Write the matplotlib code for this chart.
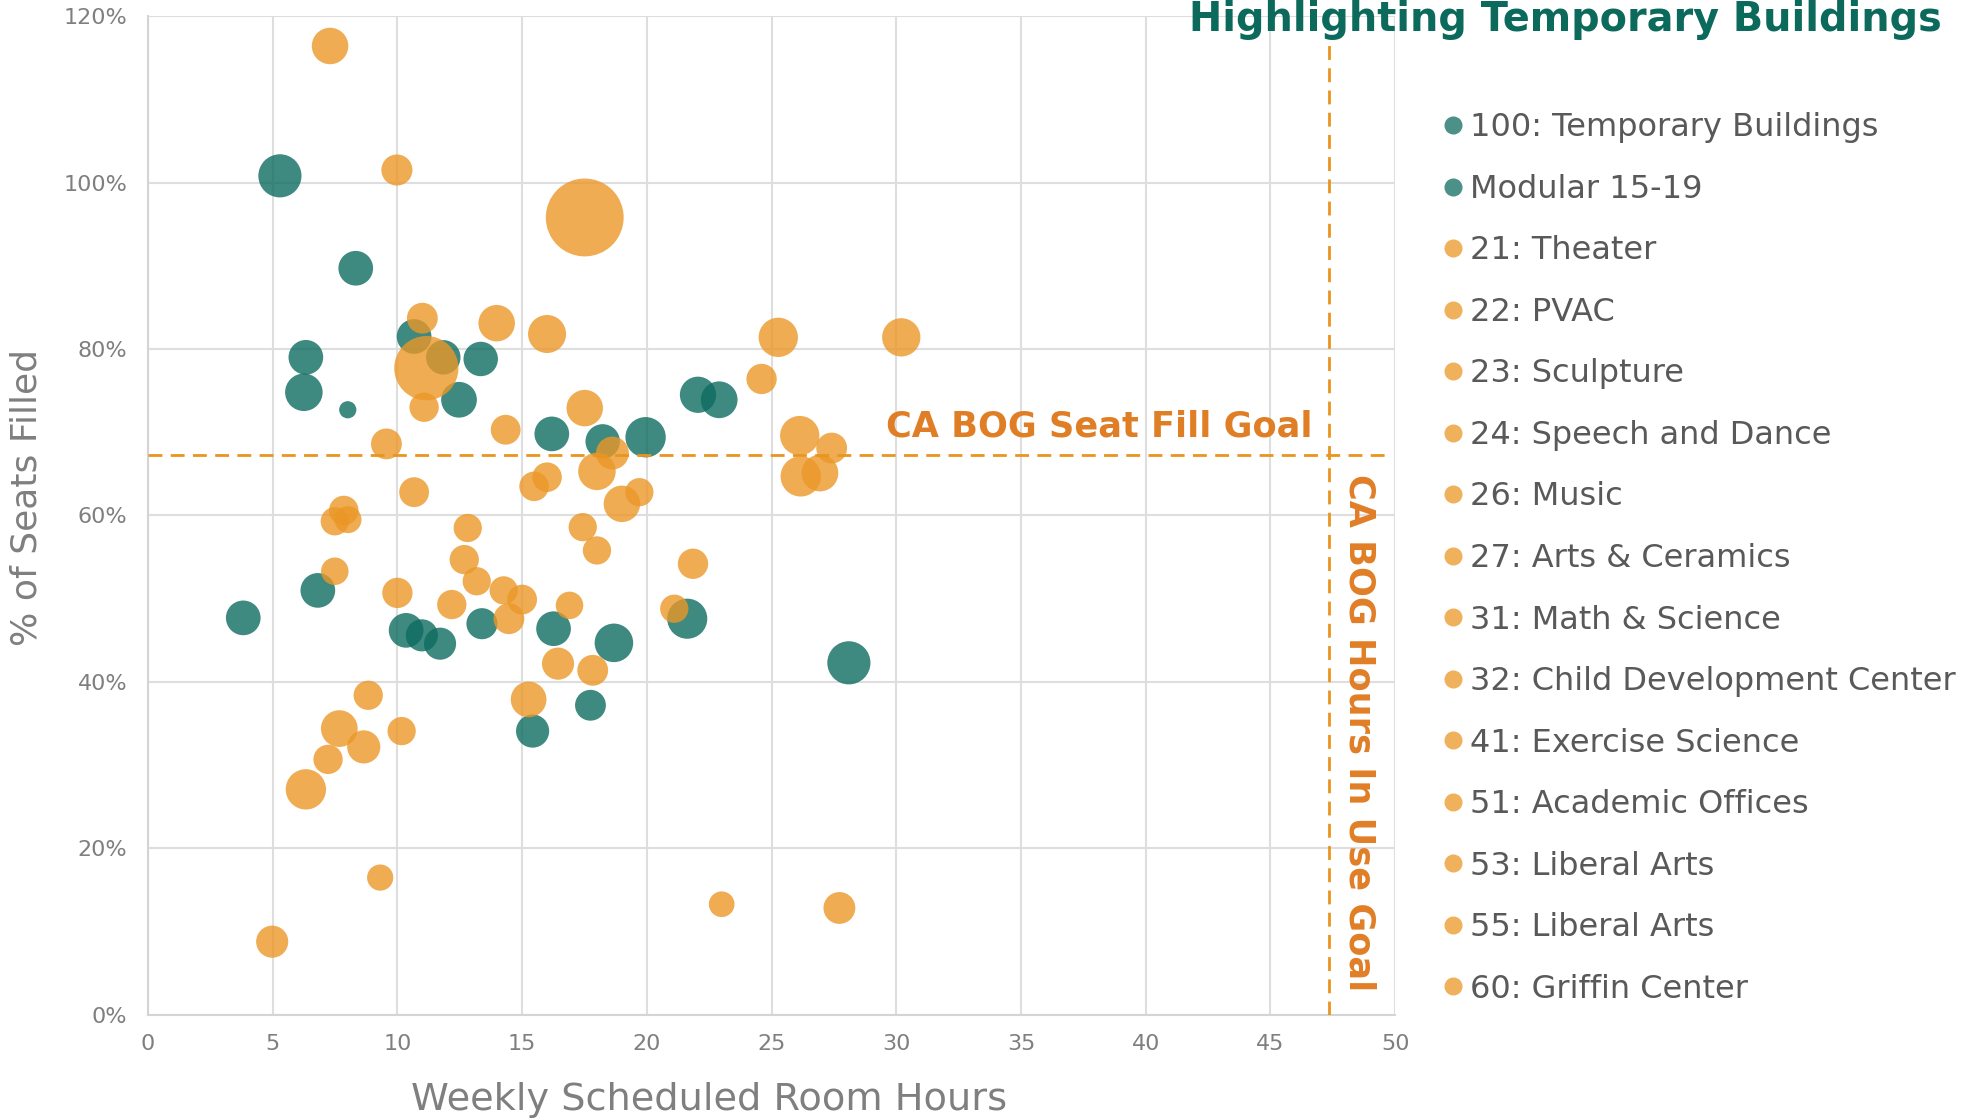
import matplotlib
matplotlib.use("Agg")
import matplotlib.pyplot as plt
from matplotlib.lines import Line2D
from matplotlib.ticker import FuncFormatter

# temporary / modular buildings (teal)
temp_hours = [5.29, 8.33, 6.33, 6.25, 8.01, 10.67, 11.84, 13.34, 12.47, 16.19,
              18.23, 19.95, 22.05, 22.9, 3.82, 6.81, 10.35, 10.98, 11.71, 13.39,
              16.26, 18.68, 21.62, 17.74, 15.42, 28.1]
temp_fill = [100.8, 89.7, 79.0, 74.8, 72.7, 81.5, 79.0, 78.8, 73.9, 69.8,
             68.9, 69.4, 74.5, 73.9, 47.7, 51.0, 46.2, 45.6, 44.6, 47.0,
             46.4, 44.7, 47.6, 37.2, 34.1, 42.3]
temp_size = [16.8, 13.5, 13.5, 14.6, 6.7, 13.5, 13.4, 13.4, 13.9, 13.5,
             13.4, 15.7, 14.1, 14.3, 13.5, 13.5, 13.5, 12.5, 12.5, 12.1,
             13.5, 15.0, 15.6, 12.0, 12.9, 16.8]

# permanent buildings (orange)
perm_hours = [7.30, 9.98, 17.51, 11.0, 11.16, 13.98, 16.0, 11.07, 17.51, 14.34,
              9.56, 25.27, 30.2, 24.6, 26.13, 27.41, 26.17, 26.94, 18.62, 18.0,
              16.0, 15.48, 19.7, 19.0, 10.67, 7.85, 7.49, 8.02, 12.82, 17.43,
              18.0, 12.68, 7.49, 13.18, 10.0, 14.26, 15.0, 12.18, 16.9, 14.47,
              21.85, 21.1, 16.44, 17.83, 15.26, 8.83, 7.67, 10.17, 8.65, 7.22,
              6.33, 9.31, 4.98, 23.0, 27.72]
perm_fill = [116.4, 101.5, 95.8, 83.7, 77.7, 83.1, 81.8, 73.0, 72.9, 70.3,
             68.6, 81.4, 81.4, 76.4, 69.6, 68.1, 64.7, 65.1, 67.5, 65.3,
             64.6, 63.5, 62.8, 61.4, 62.8, 60.6, 59.3, 59.5, 58.5, 58.6,
             55.8, 54.7, 53.3, 52.1, 50.7, 51.0, 49.9, 49.3, 49.2, 47.6,
             54.2, 48.8, 42.2, 41.4, 37.9, 38.4, 34.4, 34.1, 32.2, 30.7,
             27.1, 16.5, 8.8, 13.3, 12.85]
perm_size = [14.2, 12.1, 30.3, 12.0, 25.0, 14.2, 14.8, 11.4, 14.2, 11.6,
             12.0, 15.3, 14.9, 11.8, 15.3, 12.0, 15.7, 14.3, 12.8, 14.6,
             11.5, 11.5, 11.0, 14.2, 11.6, 11.5, 11.0, 10.5, 11.0, 11.0,
             11.0, 11.4, 10.7, 11.0, 11.8, 11.0, 11.6, 11.4, 10.7, 12.0,
             11.8, 11.0, 12.5, 12.0, 13.9, 11.4, 14.3, 11.0, 12.9, 11.4,
             15.7, 10.2, 12.5, 10.0, 12.4]

legend_names = ["100: Temporary Buildings", "Modular 15-19", "21: Theater", "22: PVAC",
                "23: Sculpture", "24: Speech and Dance", "26: Music",
                "27: Arts & Ceramics", "31: Math & Science",
                "32: Child Development Center", "41: Exercise Science",
                "51: Academic Offices", "53: Liberal Arts", "55: Liberal Arts",
                "60: Griffin Center"]
legend_is_temp = [True, True] + [False] * 13

seat_goal = 67.3
hours_goal = 47.33

TEAL = "#0e6c60"
ORANGE = "#eb9727"
GOAL = "#e9951f"
GOAL_TXT = "#e07e26"
TITLE = "#0b6a5b"
GRAY = "#7f7f7f"

fig = plt.figure(figsize=(19.65, 11.2), dpi=100)
ax = fig.add_axes([0.0753, 0.0938, 0.6347, 0.8919])

ax.scatter(temp_hours, temp_fill, s=[(1.85 * v) ** 2 for v in temp_size],
           color=TEAL, alpha=0.8, linewidths=0, zorder=3)
ax.scatter(perm_hours, perm_fill, s=[(1.85 * v) ** 2 for v in perm_size],
           color=ORANGE, alpha=0.8, linewidths=0, zorder=3)

ax.plot([0, 49.76], [seat_goal, seat_goal], color=GOAL, lw=2,
        ls=(0, (5, 3)), zorder=4, clip_on=False)
ax.plot([hours_goal, hours_goal], [0, 117.6], color=GOAL, lw=2,
        ls=(0, (5, 3)), zorder=4)

ax.text(46.7, 69.5, "CA BOG Seat Fill Goal", color=GOAL_TXT, fontsize=25.3,
        fontweight="bold", ha="right", va="baseline", zorder=5)
ax.text(48.58, 65.0, "CA BOG Hours In Use Goal", color=GOAL_TXT, fontsize=25.3,
        fontweight="bold", rotation=-90, ha="center", va="top", zorder=5)

ax.set_xlim(0, 50)
ax.set_ylim(0, 120)
ax.set_xticks(range(0, 51, 5))
ax.set_yticks(range(0, 121, 20))
ax.yaxis.set_major_formatter(FuncFormatter(lambda v, _: f"{v:.0f}%"))
ax.tick_params(length=0, labelsize=16, labelcolor=GRAY)
ax.tick_params(axis="y", pad=15)
ax.tick_params(axis="x", pad=14)
ax.grid(True, color="#dedede", lw=1.5)
ax.set_axisbelow(True)
for side in ["top", "right"]:
    ax.spines[side].set_visible(False)
for side in ["left", "bottom"]:
    ax.spines[side].set_color("#d4d4d4")
    ax.spines[side].set_linewidth(1.5)

ax.set_xlabel("Weekly Scheduled Room Hours", fontsize=27.5, color=GRAY, labelpad=20)
ax.set_ylabel("% of Seats Filled", fontsize=26, color=GRAY, labelpad=14)
ax.xaxis.label.set_x(0.45)
ax.yaxis.label.set_y(0.518)

fig.text(0.988, 0.972, "Highlighting Temporary Buildings", color=TITLE,
         fontsize=28.6, fontweight="bold", ha="right", va="baseline")

handles = [Line2D([], [], marker="o", ls="", markersize=13, markeredgewidth=0,
                  color=TEAL if t else ORANGE, alpha=0.75)
           for t in legend_is_temp]
fig.legend(handles, legend_names, loc="upper left", bbox_to_anchor=(0.7335, 0.8996),
           frameon=False, fontsize=23, labelcolor="#595959", borderpad=0,
           borderaxespad=0, handlelength=0.7, handletextpad=0.2, labelspacing=0.955)

fig.savefig("out.png", dpi=100)
